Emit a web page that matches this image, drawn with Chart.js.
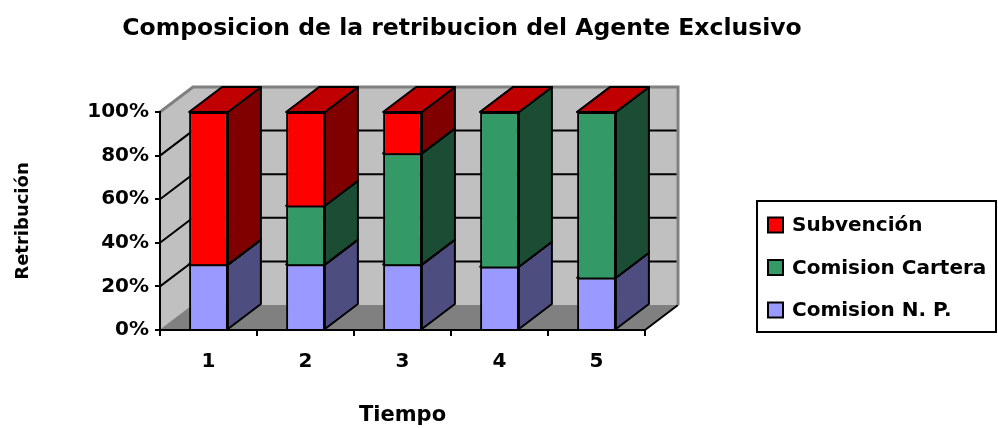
<!DOCTYPE html>
<html>

<head>
    <title>Composicion de la retribucion del Agente Exclusivo</title>
    <script src="https://cdn.jsdelivr.net/npm/chart.js@4.4.0/dist/chart.umd.min.js"></script>
    <style>
        body {
            margin: 0;
            background-color: #fff;
        }

        .chart-container {
            width: 998px;
            height: 428px;
        }
    </style>
</head>

<body>
    <div class="chart-container">
        <canvas id="retribucion-chart" width="998" height="428"></canvas>
    </div>

    <script>
        // Datos (porcentaje de la retribucion)
        const categorias = ['1', '2', '3', '4', '5'];
        const comisionNP = [30, 30, 30, 29, 24];
        const comisionCartera = [0, 27, 51, 71, 76];
        const subvencion = [70, 43, 19, 0, 0];
        const ticksY = [0, 20, 40, 60, 80, 100];

        const titulo = 'Composicion de la retribucion del Agente Exclusivo';
        const fuente = 'DejaVu Sans';

        // Profundidad del efecto 3D (px)
        const PROF_X = 33;
        const PROF_Y = -25;

        function poligono(ctx, puntos) {
            ctx.beginPath();
            ctx.moveTo(puntos[0][0], puntos[0][1]);
            for (let i = 1; i < puntos.length; i++) ctx.lineTo(puntos[i][0], puntos[i][1]);
            ctx.closePath();
            ctx.fill();
            ctx.stroke();
        }

        const efecto3d = {
            id: 'efecto3d',
            // paredes, suelo y lineas de division
            beforeDraw(chart) {
                const { ctx, chartArea: a, scales: { y } } = chart;
                const dx = PROF_X, dy = PROF_Y;
                ctx.save();
                ctx.fillStyle = '#c0c0c0';
                ctx.beginPath();
                ctx.moveTo(a.left, a.top);
                ctx.lineTo(a.left + dx, a.top + dy);
                ctx.lineTo(a.left + dx, a.bottom + dy);
                ctx.lineTo(a.left, a.bottom);
                ctx.closePath();
                ctx.fill();
                ctx.fillRect(a.left + dx, a.top + dy, a.right - a.left, a.bottom - a.top);

                ctx.fillStyle = '#808080';
                ctx.beginPath();
                ctx.moveTo(a.left, a.bottom);
                ctx.lineTo(a.left + dx, a.bottom + dy);
                ctx.lineTo(a.right + dx, a.bottom + dy);
                ctx.lineTo(a.right, a.bottom);
                ctx.closePath();
                ctx.fill();

                ctx.strokeStyle = '#000';
                ctx.lineWidth = 2;
                ticksY.forEach(v => {
                    if (v === 0 || v === 100) return;
                    const py = y.getPixelForValue(v);
                    ctx.beginPath();
                    ctx.moveTo(a.left, py);
                    ctx.lineTo(a.left + dx, py + dy);
                    ctx.lineTo(a.right + dx, py + dy);
                    ctx.stroke();
                });
                ctx.beginPath();
                ctx.moveTo(a.right, a.bottom);
                ctx.lineTo(a.right + dx, a.bottom + dy);
                ctx.stroke();

                ctx.strokeStyle = '#808080';
                ctx.lineWidth = 1;
                ctx.beginPath();
                ctx.moveTo(a.left, a.bottom);
                ctx.lineTo(a.left + dx, a.bottom + dy);
                ctx.stroke();

                ctx.lineWidth = 3;
                ctx.beginPath();
                ctx.moveTo(a.left, a.top);
                ctx.lineTo(a.left + dx, a.top + dy);
                ctx.lineTo(a.right + dx, a.top + dy);
                ctx.lineTo(a.right + dx, a.bottom + dy);
                ctx.stroke();
                ctx.restore();
            },
            // caras laterales y superiores de cada barra
            beforeDatasetsDraw(chart) {
                const ctx = chart.ctx;
                const dx = PROF_X, dy = PROF_Y;
                ctx.save();
                ctx.lineWidth = 2;
                ctx.strokeStyle = '#000';
                ctx.lineJoin = 'round';
                chart.data.datasets.forEach((ds, i) => {
                    const meta = chart.getDatasetMeta(i);
                    meta.data.forEach(bar => {
                        const { x, y, base, width } = bar.getProps(['x', 'y', 'base', 'width'], true);
                        const l = x - width / 2, r = x + width / 2;
                        ctx.fillStyle = ds.colorLateral;
                        poligono(ctx, [[r, y], [r + dx, y + dy], [r + dx, base + dy], [r, base]]);
                        ctx.fillStyle = ds.colorTapa;
                        poligono(ctx, [[l, y], [l + dx, y + dy], [r + dx, y + dy], [r, y]]);
                    });
                });
                ctx.restore();
            },
            // titulo y leyenda con recuadro
            afterDraw(chart) {
                const ctx = chart.ctx;
                ctx.save();
                ctx.fillStyle = '#000';
                ctx.font = 'bold 23.5px "' + fuente + '"';
                ctx.textAlign = 'center';
                ctx.textBaseline = 'alphabetic';
                ctx.fillText(titulo, 462, 35);

                ctx.strokeStyle = '#000';
                ctx.lineWidth = 2;
                ctx.strokeRect(757, 201, 239, 131);

                ctx.font = 'bold 20px "' + fuente + '"';
                ctx.textAlign = 'left';
                ctx.textBaseline = 'middle';
                const series = chart.data.datasets.slice().reverse();
                series.forEach((ds, i) => {
                    const cy = 225 + i * 42.5;
                    ctx.fillStyle = ds.backgroundColor;
                    ctx.fillRect(768, cy - 7.5, 15, 15);
                    ctx.strokeRect(768, cy - 7.5, 15, 15);
                    ctx.fillStyle = '#000';
                    ctx.fillText(ds.label, 792, cy + 1);
                });
                ctx.restore();
            }
        };

        Chart.defaults.font.family = fuente;
        Chart.defaults.color = '#000';

        const ctx = document.getElementById('retribucion-chart').getContext('2d');

        new Chart(ctx, {
            type: 'bar',
            data: {
                labels: categorias,
                datasets: [{
                    label: 'Comision N. P.',
                    data: comisionNP,
                    backgroundColor: '#9999ff',
                    colorLateral: '#4d4d80',
                    colorTapa: '#7373bf'
                }, {
                    label: 'Comision Cartera',
                    data: comisionCartera,
                    backgroundColor: '#339966',
                    colorLateral: '#1a4d33',
                    colorTapa: '#26734d'
                }, {
                    label: 'Subvención',
                    data: subvencion,
                    backgroundColor: '#ff0000',
                    colorLateral: '#800000',
                    colorTapa: '#c00000'
                }]
            },
            options: {
                responsive: false,
                animation: false,
                layout: {
                    padding: { left: 0, top: 112, right: 353, bottom: 0 }
                },
                datasets: {
                    bar: {
                        borderColor: '#000',
                        borderWidth: 2,
                        categoryPercentage: 1,
                        barPercentage: 0.4,
                        clip: false
                    }
                },
                scales: {
                    x: {
                        stacked: true,
                        offset: true,
                        afterFit: s => { s.height = 98; },
                        grid: {
                            offset: true,
                            drawOnChartArea: false,
                            tickLength: 6,
                            lineWidth: 2,
                            color: '#000'
                        },
                        border: { display: true, color: '#000', width: 2 },
                        ticks: {
                            padding: 14,
                            font: { size: 20, weight: 'bold' }
                        },
                        title: {
                            display: true,
                            text: 'Tiempo',
                            padding: { top: 0, bottom: 0 },
                            font: { size: 21, weight: 'bold' }
                        }
                    },
                    y: {
                        stacked: true,
                        min: 0,
                        max: 100,
                        afterFit: s => { s.width = 160; },
                        grid: {
                            drawOnChartArea: false,
                            tickLength: 5,
                            lineWidth: 2,
                            color: '#000'
                        },
                        border: { display: true, color: '#000', width: 2 },
                        ticks: {
                            stepSize: 20,
                            padding: 6,
                            font: { size: 20, weight: 'bold' },
                            callback: v => v + '%'
                        },
                        title: {
                            display: true,
                            text: 'Retribución',
                            padding: { top: 13, bottom: 0 },
                            font: { size: 18, weight: 'bold' }
                        }
                    }
                },
                plugins: {
                    legend: { display: false },
                    title: { display: false },
                    tooltip: { enabled: false }
                }
            },
            plugins: [efecto3d]
        });
    </script>
</body>

</html>
